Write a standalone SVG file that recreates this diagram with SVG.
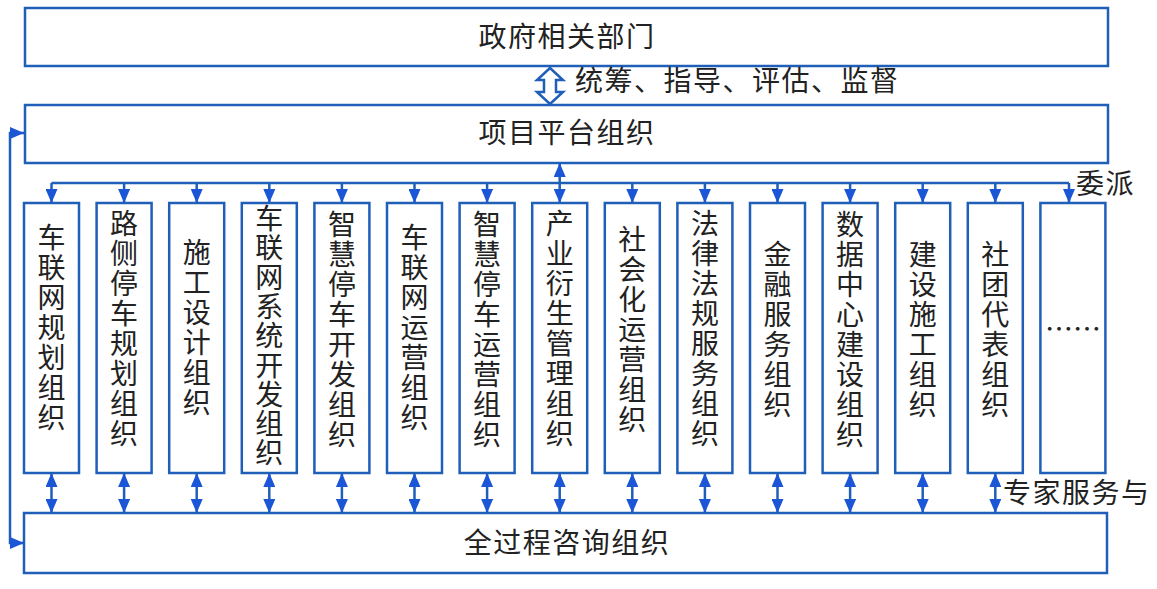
<svg xmlns="http://www.w3.org/2000/svg" width="1157" height="589" viewBox="0 0 1157 589">
<style>
.box{fill:#fff;stroke:#1f5fb8;stroke-width:2.5}
.ln{fill:none;stroke:#1f5fb8;stroke-width:2.5}
.t{font-family:"Noto Sans CJK SC","Noto Sans",sans-serif;font-size:28px;fill:#222}
.h{letter-spacing:1.5px}
.c{text-anchor:middle}
</style>
<defs>
<marker id="ah" viewBox="0 0 14 12" refX="14" refY="6" markerWidth="14" markerHeight="12" markerUnits="userSpaceOnUse" orient="auto-start-reverse">
<path d="M0,0 L14,6 L0,12 z" fill="#1a56d6"/>
</marker>
</defs>
<rect width="1157" height="589" fill="#fff"/>

<g id="gov"><rect class="box" x="25" y="8" width="1083" height="58"/><text class="t h c" x="567" y="47">政府相关部门</text></g>
<g id="platform"><rect class="box" x="25" y="105" width="1083" height="58"/><text class="t h c" x="567" y="143">项目平台组织</text></g>
<g id="consult"><rect class="box" x="24" y="513" width="1083" height="60"/><text class="t h c" x="567" y="553">全过程咨询组织</text></g>

<g id="n1"><rect class="box" x="24" y="203" width="55" height="270"/><text class="t c"><tspan x="51.5" y="248">车</tspan><tspan x="51.5" dy="30">联</tspan><tspan x="51.5" dy="30">网</tspan><tspan x="51.5" dy="30">规</tspan><tspan x="51.5" dy="30">划</tspan><tspan x="51.5" dy="30">组</tspan><tspan x="51.5" dy="30">织</tspan></text></g>
<g id="n2"><rect class="box" x="96.6" y="203" width="55" height="270"/><text class="t c"><tspan x="124.1" y="234">路</tspan><tspan x="124.1" dy="30">侧</tspan><tspan x="124.1" dy="30">停</tspan><tspan x="124.1" dy="30">车</tspan><tspan x="124.1" dy="30">规</tspan><tspan x="124.1" dy="30">划</tspan><tspan x="124.1" dy="30">组</tspan><tspan x="124.1" dy="30">织</tspan></text></g>
<g id="n3"><rect class="box" x="169.2" y="203" width="55" height="270"/><text class="t c"><tspan x="196.7" y="263">施</tspan><tspan x="196.7" dy="30">工</tspan><tspan x="196.7" dy="30">设</tspan><tspan x="196.7" dy="30">计</tspan><tspan x="196.7" dy="30">组</tspan><tspan x="196.7" dy="30">织</tspan></text></g>
<g id="n4"><rect class="box" x="241.8" y="203" width="55" height="270"/><text class="t c"><tspan x="269.3" y="229">车</tspan><tspan x="269.3" dy="29.3">联</tspan><tspan x="269.3" dy="29.3">网</tspan><tspan x="269.3" dy="29.3">系</tspan><tspan x="269.3" dy="29.3">统</tspan><tspan x="269.3" dy="29.3">开</tspan><tspan x="269.3" dy="29.3">发</tspan><tspan x="269.3" dy="29.3">组</tspan><tspan x="269.3" dy="29.3">织</tspan></text></g>
<g id="n5"><rect class="box" x="314.4" y="203" width="55" height="270"/><text class="t c"><tspan x="341.9" y="235">智</tspan><tspan x="341.9" dy="30">慧</tspan><tspan x="341.9" dy="30">停</tspan><tspan x="341.9" dy="30">车</tspan><tspan x="341.9" dy="30">开</tspan><tspan x="341.9" dy="30">发</tspan><tspan x="341.9" dy="30">组</tspan><tspan x="341.9" dy="30">织</tspan></text></g>
<g id="n6"><rect class="box" x="387" y="203" width="55" height="270"/><text class="t c"><tspan x="414.5" y="248">车</tspan><tspan x="414.5" dy="30">联</tspan><tspan x="414.5" dy="30">网</tspan><tspan x="414.5" dy="30">运</tspan><tspan x="414.5" dy="30">营</tspan><tspan x="414.5" dy="30">组</tspan><tspan x="414.5" dy="30">织</tspan></text></g>
<g id="n7"><rect class="box" x="459.6" y="203" width="55" height="270"/><text class="t c"><tspan x="487.1" y="235">智</tspan><tspan x="487.1" dy="30">慧</tspan><tspan x="487.1" dy="30">停</tspan><tspan x="487.1" dy="30">车</tspan><tspan x="487.1" dy="30">运</tspan><tspan x="487.1" dy="30">营</tspan><tspan x="487.1" dy="30">组</tspan><tspan x="487.1" dy="30">织</tspan></text></g>
<g id="n8"><rect class="box" x="532.2" y="203" width="55" height="270"/><text class="t c"><tspan x="559.7" y="234">产</tspan><tspan x="559.7" dy="30">业</tspan><tspan x="559.7" dy="30">衍</tspan><tspan x="559.7" dy="30">生</tspan><tspan x="559.7" dy="30">管</tspan><tspan x="559.7" dy="30">理</tspan><tspan x="559.7" dy="30">组</tspan><tspan x="559.7" dy="30">织</tspan></text></g>
<g id="n9"><rect class="box" x="604.8" y="203" width="55" height="270"/><text class="t c"><tspan x="632.3" y="250">社</tspan><tspan x="632.3" dy="30">会</tspan><tspan x="632.3" dy="30">化</tspan><tspan x="632.3" dy="30">运</tspan><tspan x="632.3" dy="30">营</tspan><tspan x="632.3" dy="30">组</tspan><tspan x="632.3" dy="30">织</tspan></text></g>
<g id="n10"><rect class="box" x="677.4" y="203" width="55" height="270"/><text class="t c"><tspan x="704.9" y="234">法</tspan><tspan x="704.9" dy="30">律</tspan><tspan x="704.9" dy="30">法</tspan><tspan x="704.9" dy="30">规</tspan><tspan x="704.9" dy="30">服</tspan><tspan x="704.9" dy="30">务</tspan><tspan x="704.9" dy="30">组</tspan><tspan x="704.9" dy="30">织</tspan></text></g>
<g id="n11"><rect class="box" x="750" y="203" width="55" height="270"/><text class="t c"><tspan x="777.5" y="265">金</tspan><tspan x="777.5" dy="30">融</tspan><tspan x="777.5" dy="30">服</tspan><tspan x="777.5" dy="30">务</tspan><tspan x="777.5" dy="30">组</tspan><tspan x="777.5" dy="30">织</tspan></text></g>
<g id="n12"><rect class="box" x="822.6" y="203" width="55" height="270"/><text class="t c"><tspan x="850.1" y="235">数</tspan><tspan x="850.1" dy="30">据</tspan><tspan x="850.1" dy="30">中</tspan><tspan x="850.1" dy="30">心</tspan><tspan x="850.1" dy="30">建</tspan><tspan x="850.1" dy="30">设</tspan><tspan x="850.1" dy="30">组</tspan><tspan x="850.1" dy="30">织</tspan></text></g>
<g id="n13"><rect class="box" x="895.2" y="203" width="55" height="270"/><text class="t c"><tspan x="922.7" y="265">建</tspan><tspan x="922.7" dy="30">设</tspan><tspan x="922.7" dy="30">施</tspan><tspan x="922.7" dy="30">工</tspan><tspan x="922.7" dy="30">组</tspan><tspan x="922.7" dy="30">织</tspan></text></g>
<g id="n14"><rect class="box" x="967.8" y="203" width="55" height="270"/><text class="t c"><tspan x="995.3" y="265">社</tspan><tspan x="995.3" dy="30">团</tspan><tspan x="995.3" dy="30">代</tspan><tspan x="995.3" dy="30">表</tspan><tspan x="995.3" dy="30">组</tspan><tspan x="995.3" dy="30">织</tspan></text></g>
<g id="n15"><rect class="box" x="1040.4" y="203" width="65" height="270"/><text class="t c" x="1072.9" y="340">……</text></g>

<g id="connectors">
<polygon points="550,68 563,80 556,80 556,92 563,92 550,104 537,92 544,92 544,80 537,80" fill="#fff" stroke="#1f5fb8" stroke-width="2.5"/>
<path class="ln" d="M51.5,183 H1069"/>
<path class="ln" d="M559.7,163 V203" marker-start="url(#ah)" marker-end="url(#ah)"/>
<path class="ln" d="M51.5,183 V203" marker-end="url(#ah)"/>
<path class="ln" d="M124.1,183 V203" marker-end="url(#ah)"/>
<path class="ln" d="M196.7,183 V203" marker-end="url(#ah)"/>
<path class="ln" d="M269.3,183 V203" marker-end="url(#ah)"/>
<path class="ln" d="M341.9,183 V203" marker-end="url(#ah)"/>
<path class="ln" d="M414.5,183 V203" marker-end="url(#ah)"/>
<path class="ln" d="M487.1,183 V203" marker-end="url(#ah)"/>
<path class="ln" d="M632.3,183 V203" marker-end="url(#ah)"/>
<path class="ln" d="M704.9,183 V203" marker-end="url(#ah)"/>
<path class="ln" d="M777.5,183 V203" marker-end="url(#ah)"/>
<path class="ln" d="M850.1,183 V203" marker-end="url(#ah)"/>
<path class="ln" d="M922.7,183 V203" marker-end="url(#ah)"/>
<path class="ln" d="M995.3,183 V203" marker-end="url(#ah)"/>
<path class="ln" d="M1069,183 V203" marker-end="url(#ah)"/>
<path class="ln" d="M51.5,473 V513" marker-start="url(#ah)" marker-end="url(#ah)"/>
<path class="ln" d="M124.1,473 V513" marker-start="url(#ah)" marker-end="url(#ah)"/>
<path class="ln" d="M196.7,473 V513" marker-start="url(#ah)" marker-end="url(#ah)"/>
<path class="ln" d="M269.3,473 V513" marker-start="url(#ah)" marker-end="url(#ah)"/>
<path class="ln" d="M341.9,473 V513" marker-start="url(#ah)" marker-end="url(#ah)"/>
<path class="ln" d="M414.5,473 V513" marker-start="url(#ah)" marker-end="url(#ah)"/>
<path class="ln" d="M487.1,473 V513" marker-start="url(#ah)" marker-end="url(#ah)"/>
<path class="ln" d="M559.7,473 V513" marker-start="url(#ah)" marker-end="url(#ah)"/>
<path class="ln" d="M632.3,473 V513" marker-start="url(#ah)" marker-end="url(#ah)"/>
<path class="ln" d="M704.9,473 V513" marker-start="url(#ah)" marker-end="url(#ah)"/>
<path class="ln" d="M777.5,473 V513" marker-start="url(#ah)" marker-end="url(#ah)"/>
<path class="ln" d="M850.1,473 V513" marker-start="url(#ah)" marker-end="url(#ah)"/>
<path class="ln" d="M922.7,473 V513" marker-start="url(#ah)" marker-end="url(#ah)"/>
<path class="ln" d="M995.3,473 V513" marker-start="url(#ah)" marker-end="url(#ah)"/>
<path class="ln" d="M24,133 H10 V543 H24" marker-start="url(#ah)" marker-end="url(#ah)"/>
</g>

<g id="labels">
<text class="t h" x="575" y="91">统筹、指导、评估、监督</text>
<text class="t h" x="1076" y="194">委派</text>
<text class="t h" x="1003" y="503">专家服务与</text>
</g>
</svg>
